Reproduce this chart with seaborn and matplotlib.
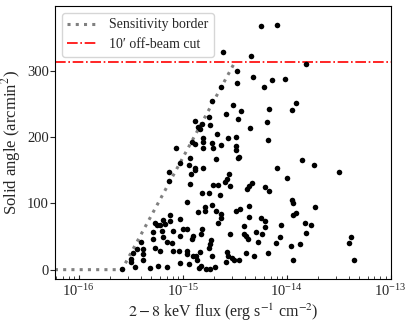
import matplotlib
matplotlib.use("Agg")
import matplotlib.pyplot as plt
import numpy as np
import pandas as pd
import seaborn as sns

# log10 of the 2-8 keV flux and the solid angle (arcmin^2) for every source
log_flux = [
    -14.25, -14.09, -14.61, -14.34, -13.81, -14.48, -14.48, -14.32, -14.22, -14.14,
    -14.02, -14.63, -14.72, -14.52, -14.44, -14.58, -14.17, -14.47, -14.75, -14.88,
    -14.81, -14.85, -14.83, -14.74, -14.35, -14.19, -13.95, -13.91,
    -14.67, -14.80, -14.56, -14.49, -14.18, -14.91, -14.88, -14.80, -14.72, -14.71,
    -14.63, -14.49, -14.49, -14.80, -15.06, -14.47, -14.46, -14.93, -14.68, -15.03,
    -14.94, -14.88, -14.88, -14.80, -14.09, -13.85, -13.74, -13.50, -14.00, -15.13,
    -15.13, -14.92, -14.93, -14.55, -14.57, -14.59, -14.54, -14.71, -14.66, -14.33,
    -14.36, -14.38, -14.21, -14.17, -14.81, -14.75, -14.64, -14.96, -14.72, -14.79,
    -14.85, -14.79, -14.68, -14.63, -14.63, -14.66, -14.49, -14.45, -14.36, -14.36,
    -14.25, -14.21, -14.21, -14.41, -14.81, -14.82, -14.54, -14.41, -14.39, -14.29,
    -14.24, -14.37, -14.28, -14.05, -14.06, -14.10, -14.73, -14.74, -14.75, -14.57,
    -14.56, -14.53, -14.46, -14.51, -14.39, -14.31, -14.18, -14.83, -14.87, -14.72,
    -14.58, -14.82, -14.84, -14.78, -14.74, -14.69, -13.94, -13.95, -13.73, -13.91,
    -13.94, -13.82, -13.77, -13.81, -13.96, -13.87, -13.38, -13.40, -13.35, -13.94,
    -15.58, -15.46, -15.31, -15.24, -15.15, -15.12, -15.19, -15.27, -15.25, -15.22,
    -15.17, -15.12, -15.03, -15.29, -15.20, -15.09, -15.00, -14.96, -15.29, -15.15,
    -15.10, -15.03, -14.91, -14.90, -15.40, -15.44, -15.38, -15.48, -15.50, -15.38,
    -15.27, -15.22, -15.09, -15.04, -14.96, -14.96, -15.03, -14.94, -14.86, -15.50,
    -15.38, -15.19, -14.90,
]
solid_angle = [
    367, 369, 329, 322, 310, 299, 282, 291, 275, 286,
    288, 275, 255, 248, 239, 235, 242, 227, 230, 225,
    220, 215, 212, 218, 213, 223, 241, 251,
    205, 199, 198, 200, 195, 193, 190, 192, 191, 183,
    188, 186, 180, 184, 183, 169, 170, 168, 167, 161,
    158, 154, 151, 154, 154, 166, 158, 147, 138, 147,
    134, 144, 129, 144, 137, 132, 126, 128, 128, 131,
    126, 122, 125, 118, 115, 115, 112, 102, 98, 95,
    87, 89, 88, 84, 78, 71, 89, 92, 96, 80,
    78, 74, 65, 66, 61, 54, 54, 54, 51, 57,
    54, 46, 42, 67, 50, 40, 44, 39, 32, 27,
    20, 18, 15, 14, 25, 20, 25, 26, 20, 21,
    11, 6, 2.5, 1, 1, 4, 101, 105, 94, 86,
    82, 70, 67, 56, 35, 38, 50, 40, 15, 14,
    1, 4, 2.5, 6, 4, 83, 75, 71, 67, 67,
    69, 73, 76, 57, 58, 58, 62, 62, 46, 41,
    40, 51, 46, 51, 41, 31, 31, 25, 16, 14,
    33, 28, 28, 28, 28, 23, 10, 9, 14, 11,
    23, 49, 21,
]

# sensitivity border and the off-beam cut
border_flux = [5.9e-17, 2.6e-16, 3.2e-15]
border_area = [0, 0, 314]
cut_area = 314

x_ticks = [1e-16, 1e-15, 1e-14, 1e-13]
y_ticks = [0, 100, 200, 300]

src = pd.DataFrame({"flux": 10 ** np.array(log_flux), "area": solid_angle})

sns.set_style("white")
plt.rcParams["font.family"] = ["Liberation Serif", "DejaVu Serif"]
plt.rcParams["mathtext.fontset"] = "stix"
plt.rcParams["font.size"] = 10

fig = plt.figure(figsize=(4.16, 3.27), dpi=100)
ax = fig.add_axes([0.132, 0.147, 0.809, 0.835])
for s in ax.spines.values():
    s.set_color("black")
    s.set_linewidth(0.8)

ax.plot(border_flux, border_area, ls=(0, (1, 1.7)), lw=2.2, color="gray",
        label="Sensitivity border", zorder=1)
ax.axhline(cut_area, color="red", ls="-.", lw=1.2, label="10\u2032 off-beam cut", zorder=1)
sns.scatterplot(data=src, x="flux", y="area", color="black", s=16, linewidth=0,
                ax=ax, zorder=3)

ax.set_xscale("log")
ax.set_xticks(x_ticks)
ax.set_xlim(5.9e-17, 1.02e-13)
ax.set_ylim(-14, 398)
ax.set_yticks(y_ticks)
ax.xaxis.set_minor_formatter(matplotlib.ticker.NullFormatter())
ax.tick_params(axis="x", which="major", direction="in", length=3.2, width=0.8,
               bottom=True, top=False, labelsize=10.5, pad=3)
ax.tick_params(axis="x", which="minor", direction="in", length=2, width=0.6,
               bottom=True, top=False)
ax.tick_params(axis="y", which="major", direction="out", length=3.5, width=0.8,
               left=True, right=False, labelsize=10.5, pad=1)
ax.set_xlabel("$2-8$ keV flux (erg s$^{-1}$ cm$^{-2}$)", fontsize=11.5, labelpad=2)
ax.set_ylabel("Solid angle (arcmin$^2$)", fontsize=12, labelpad=3)
ax.legend(loc="upper left", fontsize=10, handlelength=2.2)

fig.savefig("out.png", dpi=100)
